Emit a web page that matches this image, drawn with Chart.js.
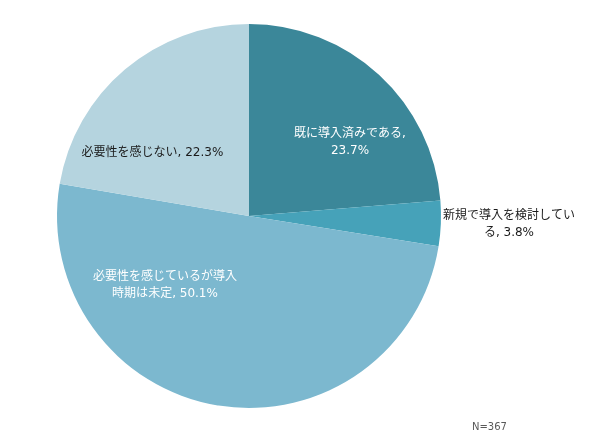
<!DOCTYPE html>
<html>
<head>
<meta charset="utf-8">
<script src="https://cdn.jsdelivr.net/npm/chart.js@4"></script>
<style>
  body { margin: 0; background: #fff; }
  canvas { display: block; }
</style>
</head>
<body>
<canvas id="myChart" width="590" height="439"></canvas>
<script>
// categories and values
let categories = ['既に導入済みである', '新規で導入を検討している', '必要性を感じているが導入時期は未定', '必要性を感じない'];
let shares = [23.7, 3.8, 50.1, 22.3];
// label text as shown, split into lines
let labelLines = [
    ['既に導入済みである,', '23.7%'],
    ['新規で導入を検討してい', 'る, 3.8%'],
    ['必要性を感じているが導入', '時期は未定, 50.1%'],
    ['必要性を感じない, 22.3%']
];
let sliceColors = ['#3b8799', '#46a2b9', '#7cb8cf', '#b5d4df'];

// label anchor as a fraction of the pie radius (x, y) from the centre
let labelAnchor = [[0.526, -0.383], [1.354, 0.044], [-0.4375, 0.359], [-0.503, -0.328]];
let labelColor = ['#ffffff', '#1a1a1a', '#ffffff', '#1a1a1a'];

let sliceLabels = {
    id: 'sliceLabels',
    afterDatasetsDraw(chart) {
        let ctx = chart.ctx;
        let arcs = chart.getDatasetMeta(0).data;
        ctx.save();
        ctx.font = '12px "DejaVu Sans", "Noto Sans CJK JP", sans-serif';
        ctx.textAlign = 'center';
        ctx.textBaseline = 'middle';
        arcs.forEach((arc, i) => {
            let r = arc.outerRadius;
            let cx = arc.x + labelAnchor[i][0] * r;
            let cy = arc.y + labelAnchor[i][1] * r;
            let lines = labelLines[i];
            let lh = 17;
            let top = cy - (lines.length - 1) * lh / 2;
            ctx.fillStyle = labelColor[i];
            lines.forEach((t, j) => ctx.fillText(t, cx, top + j * lh));
        });
        // sample size note
        ctx.font = '10px "DejaVu Sans", sans-serif';
        ctx.fillStyle = '#595959';
        ctx.textAlign = 'left';
        ctx.fillText('N=367', 472, 427);
        ctx.restore();
    }
};

let elCanvas = document.getElementById('myChart').getContext('2d');

let elChart = new Chart(elCanvas, {
    type: 'pie',
    data: {
        labels: categories,
        datasets: [{
            data: shares,
            backgroundColor: sliceColors,
            borderWidth: 0
        }]
    },
    options: {
        responsive: false,
        animation: false,
        layout: { padding: { left: 57, right: 149, top: 24, bottom: 31 } },
        plugins: {
            legend: { display: false },
            tooltip: { enabled: false }
        }
    },
    plugins: [sliceLabels]
});
</script>
</body>
</html>
